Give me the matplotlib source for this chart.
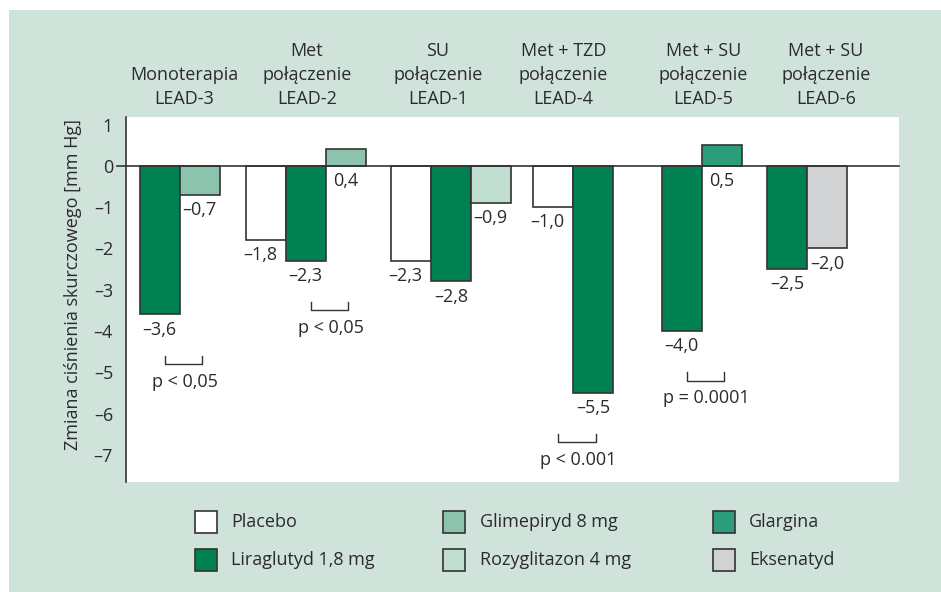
import matplotlib
matplotlib.use("Agg")
import matplotlib.pyplot as plt
from matplotlib.patches import Rectangle

plt.rcParams["font.family"] = ["Open Sans", "DejaVu Sans"]

# ------------------------------------------------
# Data
# ------------------------------------------------
groups = [
    "Monoterapia\nLEAD-3",
    "Met\npołączenie\nLEAD-2",
    "SU\npołączenie\nLEAD-1",
    "Met + TZD\npołączenie\nLEAD-4",
    "Met + SU\npołączenie\nLEAD-5",
    "Met + SU\npołączenie\nLEAD-6",
]
group_series = [
    ["Liraglutyd 1,8 mg", "Glimepiryd 8 mg"],
    ["Placebo", "Liraglutyd 1,8 mg", "Glimepiryd 8 mg"],
    ["Placebo", "Liraglutyd 1,8 mg", "Rozyglitazon 4 mg"],
    ["Placebo", "Liraglutyd 1,8 mg"],
    ["Liraglutyd 1,8 mg", "Glargina"],
    ["Liraglutyd 1,8 mg", "Eksenatyd"],
]
group_values = [
    [-3.6, -0.7],
    [-1.8, -2.3, 0.4],
    [-2.3, -2.8, -0.9],
    [-1.0, -5.5],
    [-4.0, 0.5],
    [-2.5, -2.0],
]
p_labels = ["p < 0,05", "p < 0,05", None, "p < 0.001", "p = 0.0001", None]

legend_labels = ["Placebo", "Liraglutyd 1,8 mg", "Glimepiryd 8 mg",
                 "Rozyglitazon 4 mg", "Glargina", "Eksenatyd"]

# ------------------------------------------------
# Styles / layout
# ------------------------------------------------
colors = {
    "Placebo": "#ffffff",
    "Liraglutyd 1,8 mg": "#008151",
    "Glimepiryd 8 mg": "#8cc3ac",
    "Rozyglitazon 4 mg": "#c0dfd1",
    "Glargina": "#2b9d7b",
    "Eksenatyd": "#d1d2d4",
}
BG = "#cfe3da"
EDGE = "#333333"
TXT = "#2b2b2b"
FS = 13

group_left = [0.35, 3.0, 6.63, 10.19, 13.4, 16.04]   # bar units (1 unit = bar width)
header_x = [1.46, 4.53, 7.81, 10.94, 14.44, 17.51]
p_boundary = [1, 2, None, 1, 1, None]

W, H = 941, 592
fig = plt.figure(figsize=(W / 100, H / 100), dpi=100, facecolor="white")
fig.add_artist(Rectangle((9 / W, 0), 1, (H - 10) / H, transform=fig.transFigure,
                         facecolor=BG, edgecolor="none", zorder=0))

ax = fig.add_axes([125.6 / W, (H - 481.7) / H, 773.4 / W, 365 / H])
ax.set_facecolor("white")
ax.set_xlim(0, 773.4 / 40)
ax.set_ylim(-7.65, 1.19)

for s in ["top", "right", "bottom"]:
    ax.spines[s].set_visible(False)
ax.spines["left"].set_color(EDGE)
ax.spines["left"].set_linewidth(1.2)
ax.set_xticks([])
ax.set_yticks(range(-7, 2))
ax.set_yticklabels([str(t).replace("-", "\u2013") for t in range(-7, 2)])
ax.tick_params(axis="y", length=0, pad=9, labelsize=FS, labelcolor=TXT)

# zero line, sticking out a bit to the left
ax.plot([-0.22, 773.4 / 40], [0, 0], color=EDGE, lw=1.2, clip_on=False, zorder=3)

for i, (series, values) in enumerate(zip(group_series, group_values)):
    left = group_left[i]
    for j, (name, v) in enumerate(zip(series, values)):
        x = left + j
        ax.bar(x, v, width=1, align="edge", color=colors[name],
               edgecolor=EDGE, linewidth=1.2, zorder=2)
        end = min(v, 0)
        dx = -4 if name == "Placebo" else 0
        txt = f"{v:.1f}".replace(".", ",").replace("-", "\u2013")
        ax.annotate(txt, (x + 0.5, end), xytext=(dx, -11), textcoords="offset points",
                    ha="center", va="center", fontsize=FS, color=TXT)

    ax.text(header_x[i], 1.025, groups[i], transform=ax.get_xaxis_transform(),
            ha="center", va="bottom", fontsize=FS, color=TXT,
            linespacing=1.4, clip_on=False)
    # p-value bracket
    if p_labels[i]:
        cx = left + p_boundary[i] + 0.1
        top = min(values) - 1.0
        ax.plot([cx - 0.47, cx - 0.47, cx + 0.47, cx + 0.47],
                [top, top - 0.2, top - 0.2, top], color=EDGE, lw=1.0, zorder=3)
        ax.text(cx + 0.03, top - 0.63, p_labels[i], ha="center", va="center",
                fontsize=FS, color=TXT)

fig.text(72.7 / W, 1 - 284 / H, "Zmiana ciśnienia skurczowego [mm Hg]",
         rotation=90, ha="center", va="center", fontsize=FS, color=TXT)

# ------------------------------------------------
# Legend (3 columns x 2 rows)
# ------------------------------------------------
col_x = [195, 443.3, 712.7]
row_y = [522.3, 560.3]
sq = 22
for k, name in enumerate(legend_labels):
    c, r = divmod(k, 2)
    x0, yc = col_x[c], row_y[r]
    fig.add_artist(Rectangle((x0 / W, 1 - (yc + sq / 2) / H), sq / W, sq / H,
                             transform=fig.transFigure, facecolor=colors[name],
                             edgecolor=EDGE, linewidth=1.2))
    fig.text((x0 + sq + 14.4) / W, 1 - yc / H, name, ha="left", va="center",
             fontsize=FS, color=TXT)

fig.savefig("out.png", dpi=100, facecolor="white")
